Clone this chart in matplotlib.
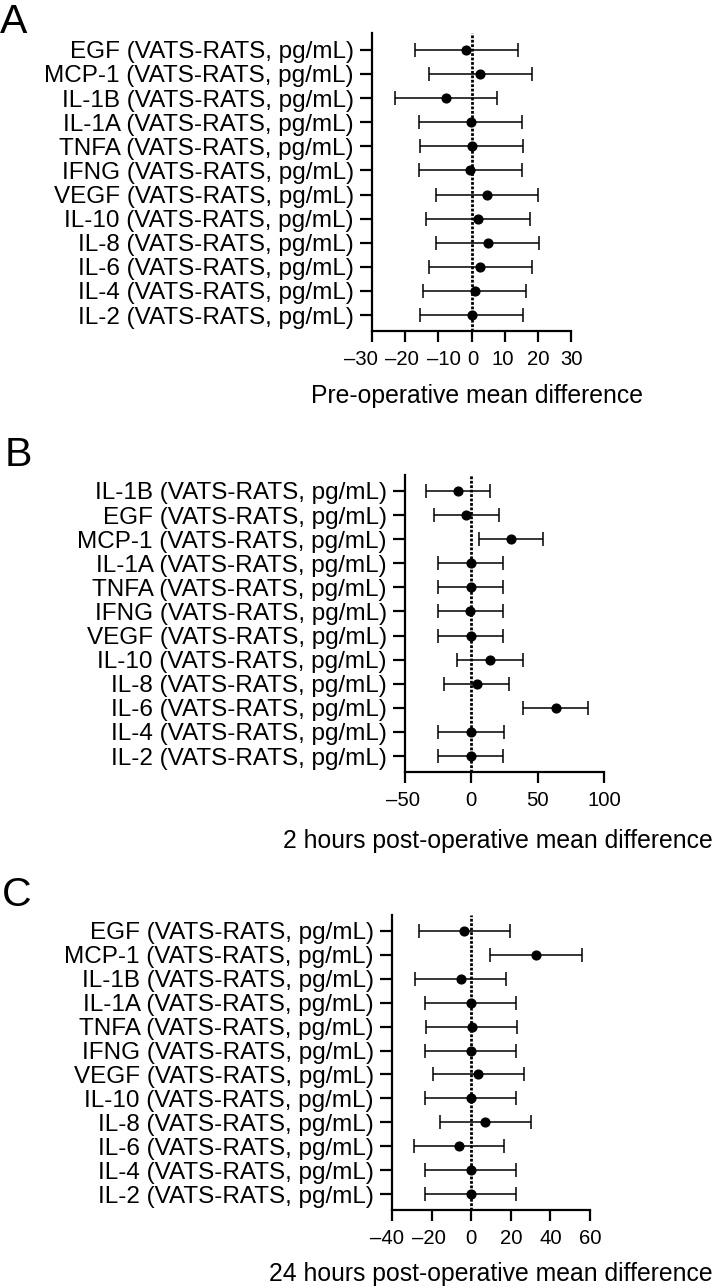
import numpy as np
import matplotlib
matplotlib.use("Agg")
import matplotlib.pyplot as plt
from matplotlib.transforms import ScaledTranslation

plt.rcParams['font.family'] = ['Liberation Sans', 'DejaVu Sans']

# panel A: pre-operative
labels_a = ["EGF", "MCP-1", "IL-1B", "IL-1A", "TNFA", "IFNG", "VEGF",
            "IL-10", "IL-8", "IL-6", "IL-4", "IL-2"]
mean_a = [-1.6, 2.6, -7.6, -0.2, 0.0, -0.4, 4.7, 1.9, 4.9, 2.6, 1.0, 0.2]
low_a = [-17.1, -12.8, -23.1, -15.7, -15.6, -15.9, -10.8, -13.6, -10.6, -12.9, -14.7, -15.5]
high_a = [13.9, 18.2, 7.8, 15.3, 15.5, 15.1, 20.2, 17.5, 20.4, 18.2, 16.5, 15.6]

# panel B: 2 hours post-operative
labels_b = ["IL-1B", "EGF", "MCP-1", "IL-1A", "TNFA", "IFNG", "VEGF",
            "IL-10", "IL-8", "IL-6", "IL-4", "IL-2"]
mean_b = [-10.2, -4.0, 30.0, -0.2, 0.0, -0.7, 0.0, 14.2, 4.1, 63.5, 0.1, -0.4]
low_b = [-34.4, -28.4, 5.6, -25.1, -25.1, -25.1, -24.8, -10.7, -20.8, 39.1, -24.8, -25.1]
high_b = [14.4, 20.5, 54.2, 24.0, 24.2, 23.9, 24.2, 38.6, 28.5, 88.2, 24.7, 24.0]

# panel C: 24 hours post-operative
labels_c = ["EGF", "MCP-1", "IL-1B", "IL-1A", "TNFA", "IFNG", "VEGF",
            "IL-10", "IL-8", "IL-6", "IL-4", "IL-2"]
mean_c = [-3.4, 32.8, -5.4, -0.2, 0.2, -0.3, 3.4, -0.3, 7.2, -6.2, -0.2, 0.0]
low_c = [-26.2, 9.7, -28.2, -23.5, -22.9, -23.5, -19.3, -23.5, -15.8, -29.1, -23.5, -23.5]
high_c = [19.7, 55.8, 17.6, 22.5, 23.0, 22.5, 26.6, 22.5, 30.3, 16.8, 22.6, 22.7]

xticks_a = [-30, -20, -10, 0, 10, 20, 30]
xticks_b = [-50, 0, 50, 100]
xticks_c = [-40, -20, 0, 20, 40, 60]

W, H = 720, 1288
fig = plt.figure(figsize=(W / 100, H / 100), dpi=100)


def add_ax(left, right, top, bottom):
    return fig.add_axes([left / W, 1 - bottom / H, (right - left) / W, (bottom - top) / H])


def forest(ax, labels, mean, low, high, ticks, xlabel, label_x, label_y, ylim):
    y = np.arange(len(labels))
    mean = np.array(mean)
    err = [mean - np.array(low), np.array(high) - mean]
    ax.axvline(0, color='black', lw=2.0, ls=(0, (1, 0.6)), zorder=1)
    ax.errorbar(mean, y, xerr=err, fmt='o', color='black', ms=6.3,
                elinewidth=1.1, capsize=5, capthick=1.1, zorder=3)
    ax.set_yticks(y)
    ax.set_yticklabels([f"{n} (VATS-RATS, pg/mL)" for n in labels], fontsize=17.5)
    ax.set_ylim(*ylim)
    ax.set_xticks(ticks)
    ax.set_xticklabels([f"{t}".replace("-", "\u2013") for t in ticks])
    ax.set_xlim(ticks[0], ticks[-1])
    ax.tick_params(axis='x', labelsize=14.6, length=8, width=1.6, pad=6)
    ax.tick_params(axis='y', length=9, width=1.6, pad=4)
    for s in ['top', 'right']:
        ax.spines[s].set_visible(False)
    for s in ['left', 'bottom']:
        ax.spines[s].set_linewidth(1.6)
    ax.set_xlabel(xlabel, fontsize=17.8)
    ax.xaxis.label.set_va('baseline')
    ax.xaxis.set_label_coords(label_x, label_y)


def nudge_xlabels(ax, shifts_px):
    # the negative labels sit a bit off their ticks in the original
    for lab, dx in zip(ax.get_xticklabels(), shifts_px):
        lab.set_transform(lab.get_transform() + ScaledTranslation(dx / 100, 0, fig.dpi_scale_trans))


ax_a = add_ax(372, 571, 33, 331)
forest(ax_a, labels_a, mean_a, low_a, high_a, xticks_a,
       "Pre-operative mean difference", 0.53, -0.242, (11.66, -0.7))
nudge_xlabels(ax_a, [-11, -3, 5.5, 1, -1.5, 0, 1])

ax_b = add_ax(405, 604, 475, 772)
forest(ax_b, labels_b, mean_b, low_b, high_b, xticks_b,
       "2 hours post-operative mean difference", 0.465, -0.256, (11.66, -0.66))
nudge_xlabels(ax_b, [-2, 0, 0, 0])

ax_c = add_ax(392, 590, 915, 1210)
forest(ax_c, labels_c, mean_c, low_c, high_c, xticks_c,
       "24 hours post-operative mean difference", 0.5, -0.24, (11.66, -0.66))
nudge_xlabels(ax_c, [-5, -3, 0, 0, 0, 0])

for letter, x, yb in [("A", 0, 33), ("B", 5, 466), ("C", 2, 906)]:
    fig.text(x / W, 1 - yb / H, letter, fontsize=29.5, va='baseline', ha='left')

fig.savefig("out.png", dpi=100)
